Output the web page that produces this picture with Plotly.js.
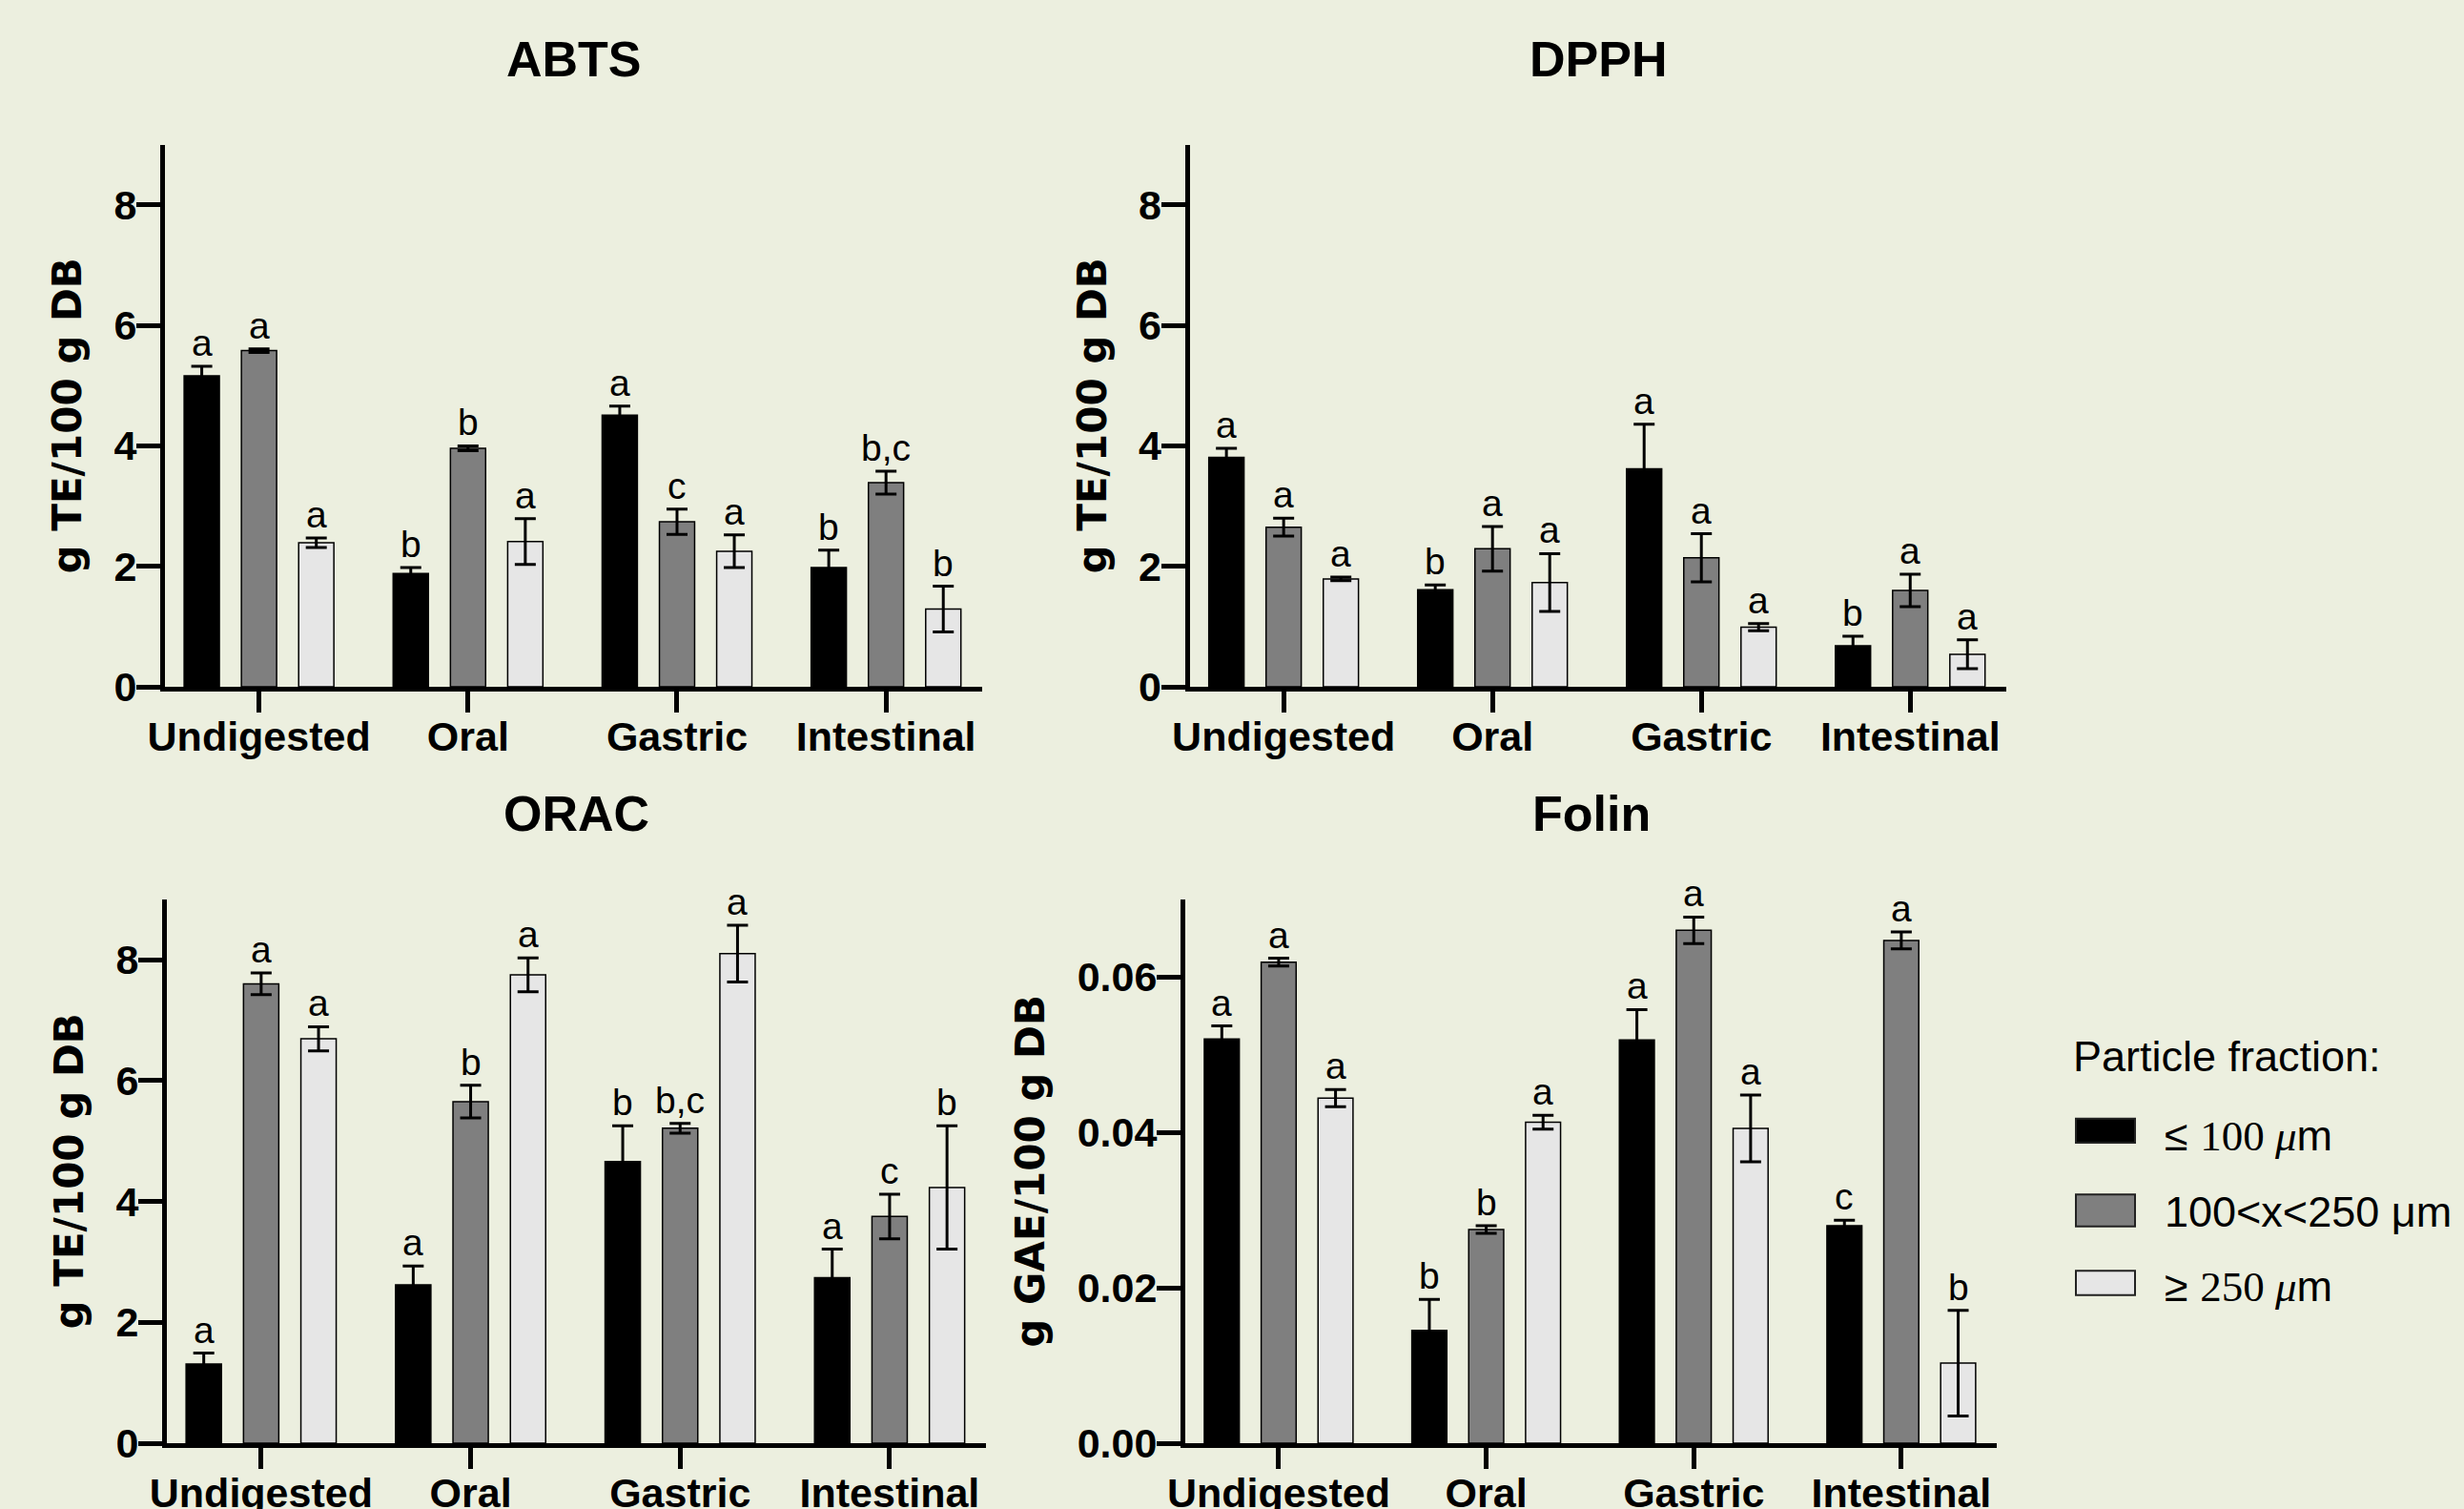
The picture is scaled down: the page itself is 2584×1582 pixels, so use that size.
<!DOCTYPE html>
<html>
<head>
<meta charset="utf-8">
<script src="https://cdn.plot.ly/plotly-3.0.1.min.js"></script>
<style>
  html, body { margin: 0; padding: 0; background: #ecefdf; }
  #chart { width: 2584px; height: 1582px; }
</style>
</head>
<body>
<div id="chart"></div>
<script>
// ---------- DATA ----------
const categories = ['Undigested', 'Oral', 'Gastric', 'Intestinal'];
const seriesNames = ['≤ 100 μm', '100<x<250 μm', '≥ 250 μm'];
const panelTitles = ['ABTS', 'DPPH', 'ORAC', 'Folin'];
const yTitles = ['g TE/100 g DB', 'g TE/100 g DB', 'g TE/100 g DB', 'g GAE/100 g DB'];

// ABTS
const abtsFine = [5.16, 1.88, 4.51, 1.98];
const abtsFineSd = [0.16, 0.10, 0.15, 0.29];
const abtsMid = [5.58, 3.96, 2.74, 3.39];
const abtsMidSd = [0.03, 0.04, 0.21, 0.19];
const abtsCoarse = [2.39, 2.41, 2.25, 1.29];
const abtsCoarseSd = [0.08, 0.38, 0.27, 0.38];
const abtsFineLetters = ['a', 'b', 'a', 'b'];
const abtsMidLetters = ['a', 'b', 'c', 'b,c'];
const abtsCoarseLetters = ['a', 'a', 'a', 'b'];

// DPPH
const dpphFine = [3.81, 1.61, 3.62, 0.68];
const dpphFineSd = [0.15, 0.08, 0.74, 0.16];
const dpphMid = [2.65, 2.29, 2.14, 1.60];
const dpphMidSd = [0.15, 0.37, 0.40, 0.27];
const dpphCoarse = [1.79, 1.73, 0.99, 0.54];
const dpphCoarseSd = [0.03, 0.48, 0.06, 0.24];
const dpphFineLetters = ['a', 'b', 'a', 'b'];
const dpphMidLetters = ['a', 'a', 'a', 'a'];
const dpphCoarseLetters = ['a', 'a', 'a', 'a'];

// ORAC
const oracFine = [1.31, 2.62, 4.66, 2.74];
const oracFineSd = [0.18, 0.31, 0.59, 0.47];
const oracMid = [7.60, 5.65, 5.21, 3.75];
const oracMidSd = [0.18, 0.27, 0.08, 0.37];
const oracCoarse = [6.69, 7.75, 8.10, 4.23];
const oracCoarseSd = [0.20, 0.28, 0.47, 1.02];
const oracFineLetters = ['a', 'a', 'b', 'a'];
const oracMidLetters = ['a', 'b', 'b,c', 'c'];
const oracCoarseLetters = ['a', 'a', 'a', 'b'];

// Folin
const folinFine = [0.0520, 0.0145, 0.0519, 0.0280];
const folinFineSd = [0.0017, 0.0040, 0.0039, 0.0007];
const folinMid = [0.0619, 0.0275, 0.0660, 0.0647];
const folinMidSd = [0.0005, 0.0005, 0.0017, 0.0011];
const folinCoarse = [0.0444, 0.0413, 0.0405, 0.0103];
const folinCoarseSd = [0.0011, 0.0009, 0.0043, 0.0068];
const folinFineLetters = ['a', 'b', 'a', 'c'];
const folinMidLetters = ['a', 'b', 'a', 'a'];
const folinCoarseLetters = ['a', 'a', 'a', 'b'];

const yTickVals = [0, 2, 4, 6, 8];
const folinTickVals = [0, 0.02, 0.04, 0.06];

// ---------- BUILD ----------
const BG = '#ecefdf';
const seriesColors = ['#000000', '#7f7f7f', '#e6e6e6'];
const BARGAP = 0.178;
const BARGROUPGAP = 0.385;
const slot = (1 - BARGAP) / 3;

const panels = [
  { vals: [abtsFine, abtsMid, abtsCoarse], sds: [abtsFineSd, abtsMidSd, abtsCoarseSd],
    letters: [abtsFineLetters, abtsMidLetters, abtsCoarseLetters] },
  { vals: [dpphFine, dpphMid, dpphCoarse], sds: [dpphFineSd, dpphMidSd, dpphCoarseSd],
    letters: [dpphFineLetters, dpphMidLetters, dpphCoarseLetters] },
  { vals: [oracFine, oracMid, oracCoarse], sds: [oracFineSd, oracMidSd, oracCoarseSd],
    letters: [oracFineLetters, oracMidLetters, oracCoarseLetters] },
  { vals: [folinFine, folinMid, folinCoarse], sds: [folinFineSd, folinMidSd, folinCoarseSd],
    letters: [folinFineLetters, folinMidLetters, folinCoarseLetters] }
];

const W = 2584, H = 1582;
const px = v => v / W;
const py = v => 1 - v / H;

// plot-area boxes in pixels [left, right, top, bottom]
const boxes = [
  [173, 1030, 151.6, 720],
  [1247.6, 2104, 151.6, 720],
  [175, 1034, 942.7, 1513],
  [1243, 2094, 942.7, 1513]
];

const data = [];
const annotations = [];
const layout = {
  width: W, height: H,
  margin: { l: 0, r: 0, t: 0, b: 0 },
  paper_bgcolor: BG, plot_bgcolor: BG,
  barmode: 'group', bargap: BARGAP, bargroupgap: BARGROUPGAP,
  showlegend: false,
  font: { family: 'Liberation Sans, Arial, sans-serif', color: '#000' },
  shapes: []
};

const tickFont = { family: 'Liberation Sans, Arial, sans-serif', size: 43, weight: 'bold', color: '#000' };

panels.forEach((p, k) => {
  const n = k + 1;
  const xid = n === 1 ? 'x' : 'x' + n;
  const yid = n === 1 ? 'y' : 'y' + n;
  const b = boxes[k];
  p.vals.forEach((v, s) => {
    data.push({
      type: 'bar', x: categories, y: v, name: seriesNames[s],
      xaxis: xid, yaxis: yid,
      marker: { color: seriesColors[s], line: { color: '#000', width: 1.5 } },
      error_y: { type: 'data', array: p.sds[s], visible: true, color: '#000', thickness: 3, width: 11 },
      hoverinfo: 'skip'
    });
    v.forEach((val, i) => {
      annotations.push({
        xref: xid, yref: yid, x: i + (s - 1) * slot, y: val + p.sds[s][i],
        text: p.letters[s][i], showarrow: false, yanchor: 'bottom', yshift: 1,
        font: { family: 'Liberation Sans, Arial, sans-serif', size: 39, color: '#000' }
      });
    });
  });
  const isFolin = k === 3;
  layout['xaxis' + (n === 1 ? '' : n)] = {
    domain: [px(b[0]), px(b[1])], anchor: yid,
    type: 'category', range: [-0.45, 3.46],
    showline: true, linewidth: 5, linecolor: '#000',
    ticks: 'outside', ticklen: 22, tickwidth: 5, tickcolor: '#000',
    ticklabelstandoff: -12,
    showgrid: false, zeroline: false, fixedrange: true,
    tickfont: tickFont
  };
  layout['yaxis' + (n === 1 ? '' : n)] = {
    domain: [py(b[3]), py(b[2])], anchor: xid,
    range: isFolin ? [0, 0.07] : [0, 9],
    tickvals: isFolin ? folinTickVals : yTickVals,
    tickformat: isFolin ? '.2f' : '',
    showline: true, linewidth: 5, linecolor: '#000',
    ticks: 'outside', ticklen: 25, tickwidth: 5, tickcolor: '#000',
    ticklabelstandoff: -9,
    showgrid: false, zeroline: false, fixedrange: true,
    tickfont: tickFont,
    title: { text: yTitles[k], standoff: 22,
             font: { family: 'DejaVu Sans, sans-serif', size: 42, weight: 'bold', color: '#000' } }
  };
  // panel title
  annotations.push({
    xref: 'paper', yref: 'paper', x: px((b[0] + b[1]) / 2), y: py(b[2] - 90),
    text: '<b>' + panelTitles[k] + '</b>', showarrow: false, xanchor: 'center', yanchor: 'middle',
    font: { family: 'Liberation Sans, Arial, sans-serif', size: 52, color: '#000' }
  });
});

// legend (drawn manually to match the large swatches)
annotations.push({
  xref: 'paper', yref: 'paper', x: px(2172), y: py(1107), xanchor: 'left', yanchor: 'middle',
  text: 'Particle fraction:', showarrow: false,
  font: { family: 'Liberation Sans, Arial, sans-serif', size: 45, color: '#000' }
});
const legendSw = [[1172.7, 1198], [1252.3, 1285.7], [1332.3, 1357.7]];
const legendTxtY = [1190, 1270, 1348];
const legendTexts = [
  '≤ <span style="font-family:Liberation Serif">100 <i>μ</i></span>m',
  '100&lt;x&lt;250 μm',
  '≥ <span style="font-family:Liberation Serif">250 <i>μ</i></span>m'
];
legendSw.forEach((sw, s) => {
  layout.shapes.push({
    type: 'rect', xref: 'paper', yref: 'paper',
    x0: px(2177), x1: px(2239), y0: py(sw[1]), y1: py(sw[0]),
    fillcolor: seriesColors[s], line: { color: '#222', width: 2 }
  });
  annotations.push({
    xref: 'paper', yref: 'paper', x: px(2268), y: py(legendTxtY[s]), xanchor: 'left', yanchor: 'middle',
    text: legendTexts[s], showarrow: false,
    font: { family: 'Liberation Sans, Arial, sans-serif', size: 45, color: '#000' }
  });
});

layout.annotations = annotations;

Plotly.newPlot('chart', data, layout, { staticPlot: true, displayModeBar: false });
</script>
</body>
</html>
